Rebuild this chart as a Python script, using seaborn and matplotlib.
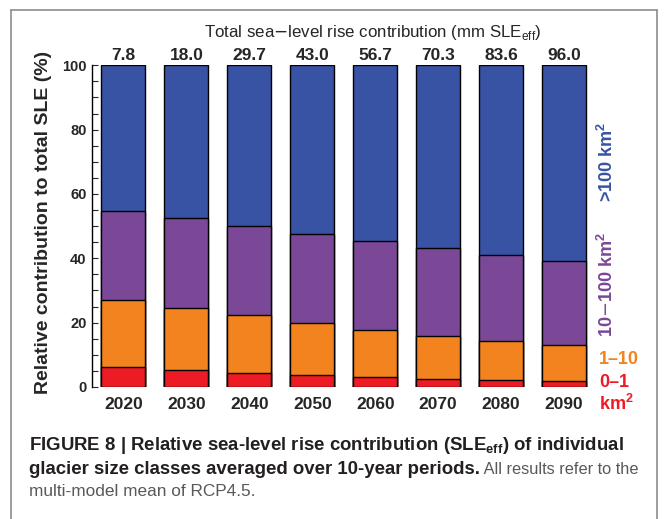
import numpy as np
import pandas as pd
import matplotlib
matplotlib.use("Agg")
import matplotlib.pyplot as plt
from matplotlib.lines import Line2D
from matplotlib.ticker import MultipleLocator
import seaborn as sns

# decades and total SLE contribution (mm SLE_eff)
years = ["2020", "2030", "2040", "2050", "2060", "2070", "2080", "2090"]
totals = ["7.8", "18.0", "29.7", "43.0", "56.7", "70.3", "83.6", "96.0"]

# relative share (%) of each glacier size class
share_0_1 = [6.3, 5.4, 4.4, 3.6, 3.0, 2.6, 2.2, 1.9]
share_1_10 = [20.6, 19.3, 17.9, 16.3, 14.8, 13.4, 12.2, 11.3]
share_10_100 = [27.9, 27.9, 27.9, 27.8, 27.5, 27.2, 26.7, 26.1]
share_gt100 = [45.2, 47.4, 49.8, 52.3, 54.7, 56.8, 58.9, 60.7]

colors = {"0-1": "#ED1C24", "1-10": "#F2831F", "10-100": "#7B4797", ">100": "#3853A4"}

sns.set_style("white")
plt.rcParams["font.family"] = ["Liberation Sans", "DejaVu Sans"]

df = pd.DataFrame({"year": years, "0-1": share_0_1, "1-10": share_1_10,
                   "10-100": share_10_100, ">100": share_gt100})
# cumulative tops so the bars can be overlaid back to front
df["c1"] = df["0-1"]
df["c2"] = df["c1"] + df["1-10"]
df["c3"] = df["c2"] + df["10-100"]
df["c4"] = df["c3"] + df[">100"]

W, H = 667, 519
fig = plt.figure(figsize=(W / 100, H / 100), dpi=100)
ax = fig.add_axes([92 / W, 1 - 387 / H, (595.5 - 92) / W, (387 - 65.3) / H])

for col, key in [("c4", ">100"), ("c3", "10-100"), ("c2", "1-10"), ("c1", "0-1")]:
    sns.barplot(data=df, x="year", y=col, color=colors[key], width=0.7,
                edgecolor="black", linewidth=1.0, saturation=1, ax=ax)

ax.set_xlim(-0.5, 7.5)
ax.set_ylim(0, 100)
ax.set_xlabel("")
ax.set_ylabel("")
for s in ["top", "right", "bottom"]:
    ax.spines[s].set_visible(False)
ax.spines["left"].set_color("black")
ax.spines["left"].set_linewidth(1.0)
ax.yaxis.set_major_locator(MultipleLocator(20))
ax.yaxis.set_minor_locator(MultipleLocator(5))
ax.tick_params(axis="y", which="both", direction="in", length=4, width=0.8,
               left=True, labelsize=10.5, pad=4)
ax.tick_params(axis="x", length=0, labelsize=12.5, pad=7)
for lab in ax.get_yticklabels() + ax.get_xticklabels():
    lab.set_fontweight("bold")

for i, t in enumerate(totals):
    ax.text(i, 1.017, t, transform=ax.get_xaxis_transform(), ha="center",
            va="baseline", fontsize=12.5, fontweight="bold")

fig.text(373 / W, 1 - 37 / H, r"Total sea$-$level rise contribution (mm SLE$_{\mathregular{eff}}$)",
         ha="center", va="baseline", fontsize=12.2)
fig.text(44 / W, 1 - 222 / H, "Relative contribution to total SLE (%)", rotation=90,
         ha="center", va="center", fontsize=14, fontweight="bold")

# class labels on the right
fig.text(607 / W, 1 - 162 / H, r">100 km$^{\mathregular{2}}$", rotation=90, ha="center",
         va="center", fontsize=13, fontweight="bold", color=colors[">100"])
fig.text(607 / W, 1 - 285 / H, r"10$-$100 km$^{\mathregular{2}}$", rotation=90, ha="center",
         va="center", fontsize=13, fontweight="bold", color=colors["10-100"])
fig.text(599 / W, 1 - 360 / H, "1\u201310", ha="left", va="center", fontsize=13,
         fontweight="bold", color=colors["1-10"])
fig.text(599 / W, 1 - 382.5 / H, "0\u20131", ha="left", va="center", fontsize=13,
         fontweight="bold", color=colors["0-1"])
fig.text(599 / W, 1 - 404 / H, r"km$^{\mathregular{2}}$", ha="left", va="center", fontsize=13,
         fontweight="bold", color=colors["0-1"])

# caption
dark = "#231F20"
grey = "#58595B"
cap = 13.4
fig.text(29 / W, 1 - 446 / H,
         r"FIGURE 8 | Relative sea-level rise contribution (SLE$_{\mathregular{eff}}$) of individual",
         ha="left", va="center", fontsize=cap, fontweight="bold", color=dark)
t2 = fig.text(29 / W, 1 - 469 / H, "glacier size classes averaged over 10-year periods.",
              ha="left", va="center", fontsize=cap, fontweight="bold", color=dark)
ax.annotate(" All results refer to the", xy=(1, 0), xycoords=t2, ha="left", va="bottom",
            fontsize=11.8, color=grey, annotation_clip=False)
fig.text(29 / W, 1 - 491 / H, "multi-model mean of RCP4.5.", ha="left", va="center",
         fontsize=12.4, color=grey)

# panel frame
fc = "#8C8C8C"
for xs, ys in [([11 / W, 11 / W], [0, 1 - 10 / H]), ([657 / W, 657 / W], [0, 1 - 10 / H]),
               ([11 / W, 657 / W], [1 - 10 / H, 1 - 10 / H])]:
    fig.add_artist(Line2D(xs, ys, color=fc, linewidth=1.2, transform=fig.transFigure))

fig.savefig("out.png", dpi=100)
